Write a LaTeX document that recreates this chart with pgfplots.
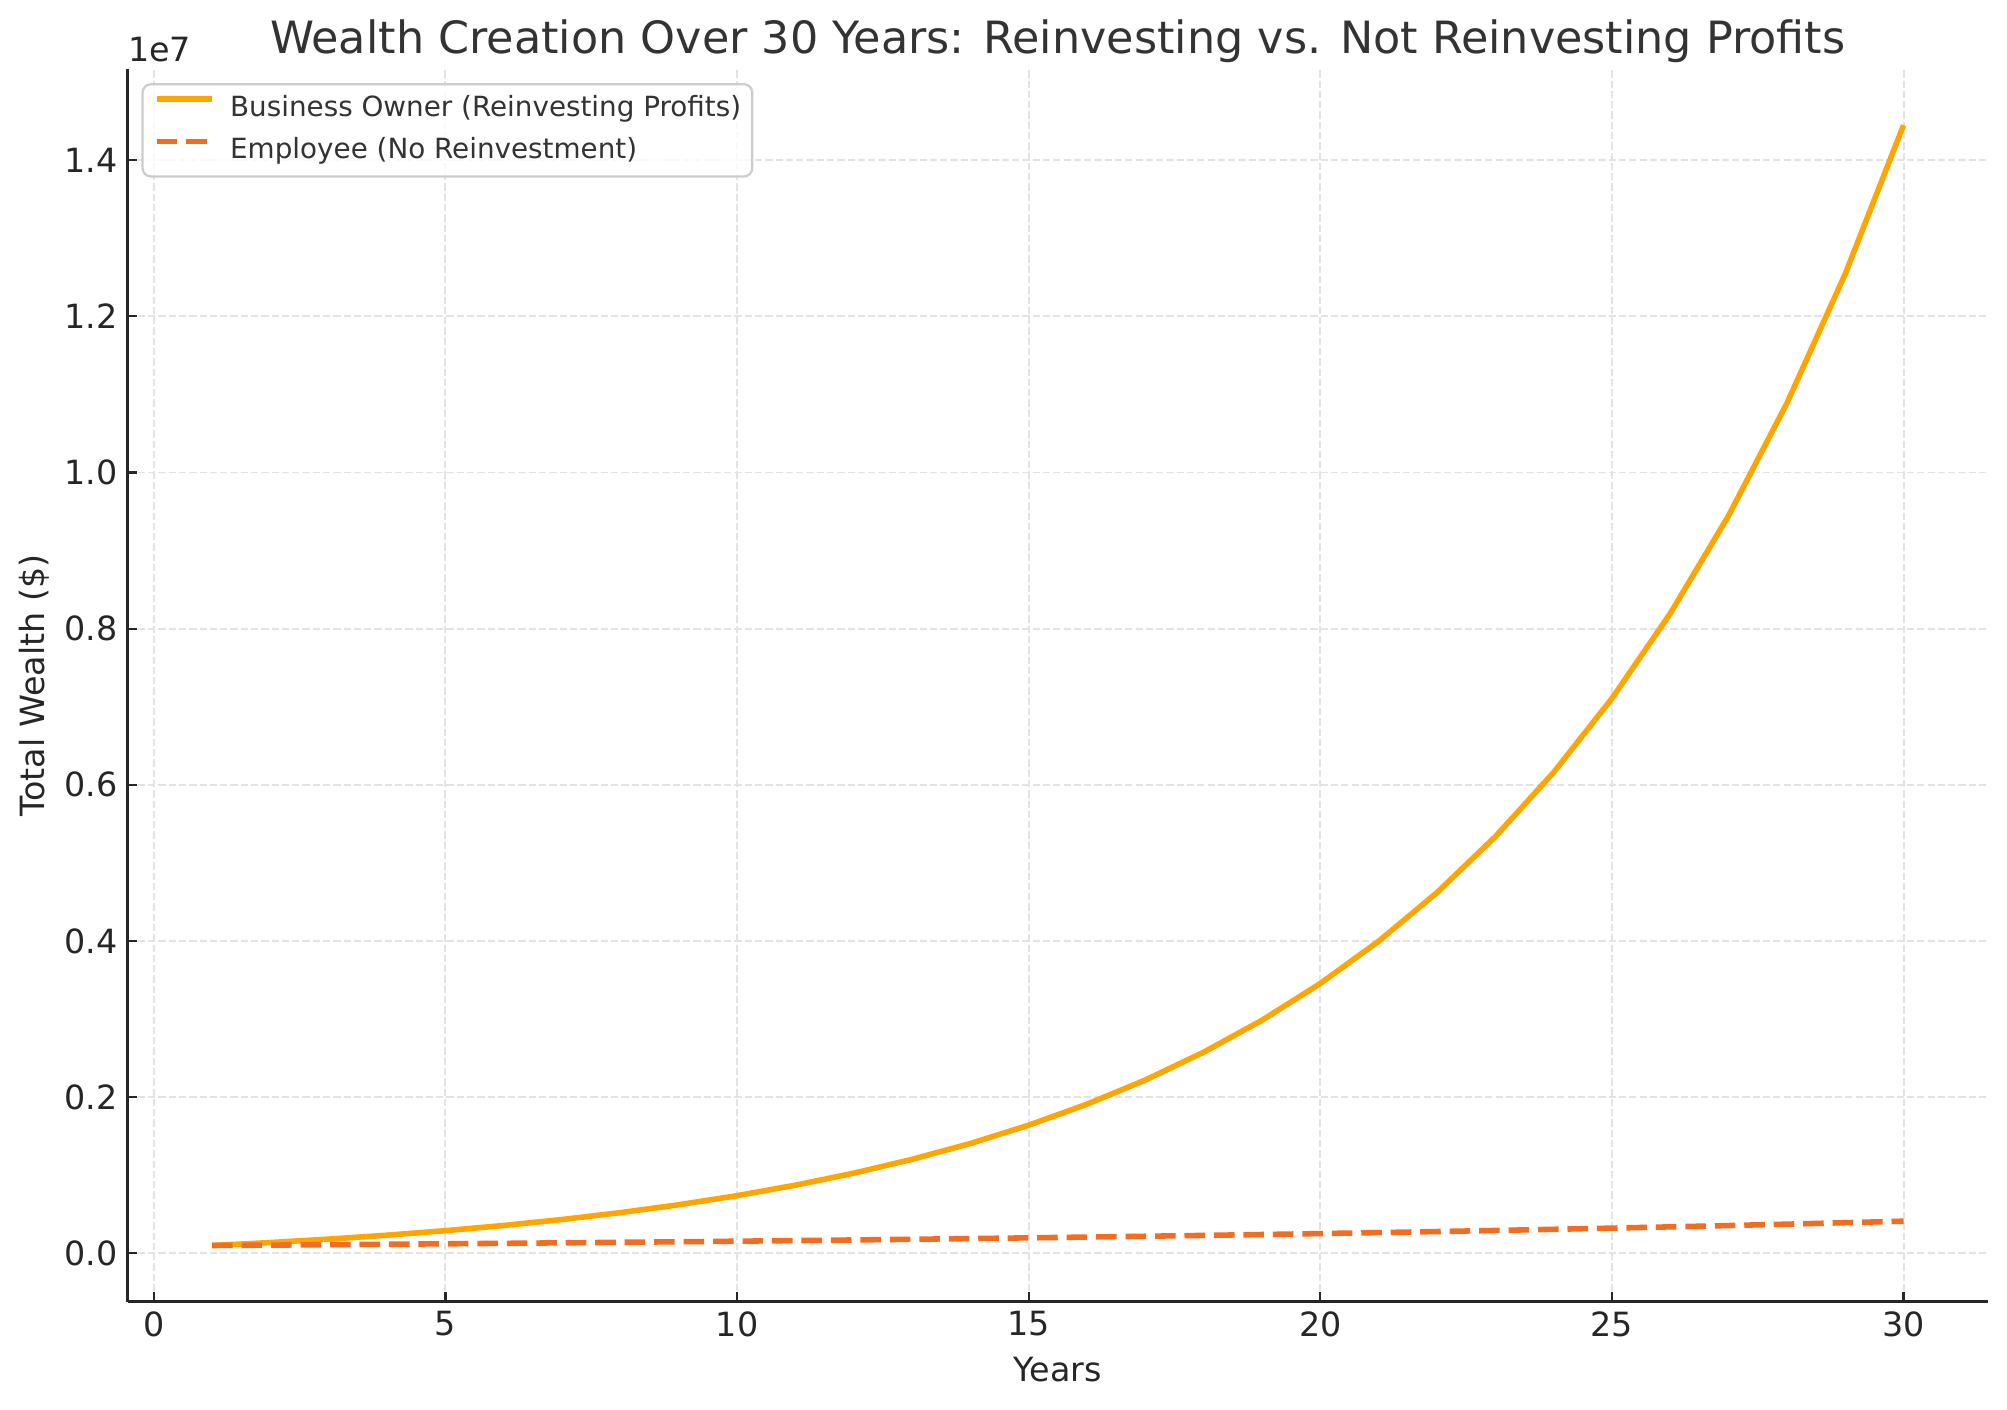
\documentclass[border=0pt]{standalone}
\usepackage{fontspec}
\setmainfont{DejaVu Sans}
\usepackage{pgfplots}
\pgfplotsset{compat=1.18}

\definecolor{owner}{HTML}{FFA500}
\definecolor{employee}{HTML}{F26C22}
\definecolor{txt}{HTML}{262626}
\definecolor{ttl}{HTML}{333333}
\definecolor{gridc}{HTML}{E3E3E3}
\definecolor{legframe}{HTML}{CCCCCC}

% year, total wealth
\pgfplotstableread{
year wealth
1  100000
2  138040
3  181786
4  232094
5  289948
6  356480
7  432992
8  520981
9  622168
10 738534
11 872354
12 1026246
13 1203223
14 1406747
15 1640799
16 1909959
17 2219493
18 2575457
19 2984815
20 3455577
21 3996954
22 4619537
23 5335549
24 6158821
25 7105725
26 8194668
27 9446884
28 10886957
29 12543041
30 14447535
}\owner

\pgfplotstableread{
year wealth
1  100000
2  105000
3  110250
4  115763
5  121551
6  127628
7  134010
8  140710
9  147746
10 155133
11 162889
12 171034
13 179586
14 188565
15 197993
16 207893
17 218287
18 229202
19 240662
20 252695
21 265330
22 278596
23 292526
24 307152
25 322510
26 338635
27 355567
28 373346
29 392013
30 411614
}\employee

\begin{document}
\begin{tikzpicture}
\begin{axis}[
    scale only axis,
    width=669.3pt, height=443.3pt,
    xmin=-0.45, xmax=31.45,
    ymin=-617377, ymax=15164912,
    xtick={0,5,...,30},
    ytick={0,2000000,4000000,6000000,8000000,10000000,12000000,14000000},
    scaled y ticks=base 10:-7,
    ytick scale label code/.code={1e7},
    every y tick scale label/.style={at={(rel axis cs:0,1)}, anchor=base west,
        yshift=2.6pt, inner sep=0pt, text=txt, font=\fontsize{12}{14.4}\selectfont},
    yticklabel style={/pgf/number format/fixed, /pgf/number format/fixed zerofill,
        /pgf/number format/precision=1},
    /pgf/number format/assume math mode=true,
    axis lines*=left,
    axis line style={-, draw=txt, line width=0.8pt},
    tick align=inside,
    major tick length=3.5pt,
    tick style={draw=txt, line width=0.8pt},
    tick label style={text=txt, font=\fontsize{12}{14.4}\selectfont},
    grid=major,
    grid style={draw=gridc, line width=0.7pt, dash pattern=on 2.6pt off 1.1pt},
    title={Wealth Creation Over 30 Years: Reinvesting vs. Not Reinvesting Profits},
    every axis title shift=0pt,
    title style={at={(axis description cs:0.5,1)}, anchor=base, yshift=5.8pt,
        text=ttl, font=\fontsize{16}{19.2}\selectfont},
    xlabel={Years},
    ylabel={Total Wealth (\$)},
    every axis x label/.style={at={(axis description cs:0.5,0)}, anchor=base,
        yshift=-28.8pt, text=txt, font=\fontsize{12}{14.4}\selectfont},
    every axis y label/.style={at={(axis description cs:-0.0504,0.5)}, rotate=90,
        anchor=center, text=txt, font=\fontsize{12}{14.4}\selectfont},
    legend cell align=left,
    legend image code/.code={\draw[#1] (0pt,3.6pt) -- (20pt,3.6pt);},
    legend style={at={(0,1)}, anchor=north west, xshift=5pt, yshift=-5pt,
        draw=legframe, line width=0.8pt, rounded corners=3pt,
        fill=white, fill opacity=0.8, text opacity=1,
        inner sep=4pt, row sep=5.2pt, column sep=5.5pt,
        font=\fontsize{10}{12}\selectfont, text=ttl,
        nodes={inner sep=0pt, text height=7.5pt, text depth=2.5pt}},
]
\addplot[owner, line width=2pt] table[x=year, y=wealth] {\owner};
\addlegendentry{Business Owner (Reinvesting Profits)}
\addplot[employee, line width=2pt, dash pattern=on 7.4pt off 3.2pt] table[x=year, y=wealth] {\employee};
\addlegendentry{Employee (No Reinvestment)}
\end{axis}
\pgfresetboundingbox
\useasboundingbox (-45.9pt,-38.8pt) rectangle (676.1pt,468.2pt);
\end{tikzpicture}
\end{document}
